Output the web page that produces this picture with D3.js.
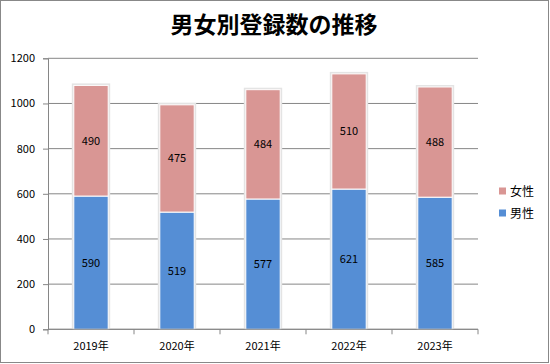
<!DOCTYPE html>
<html>
<meta charset="utf-8">
<title>男女別登録数の推移</title>
<script src="https://d3js.org/d3.v7.min.js"></script>
<style>
  body { margin: 0; background: #fff; }
  text { font-family: "Noto Sans CJK JP", "Noto Sans", sans-serif; }
</style>
<body>
<svg id="chart" width="550" height="364"></svg>
<script>
// data
var years = ["2019年", "2020年", "2021年", "2022年", "2023年"];
var male = [590, 519, 577, 621, 585];
var female = [490, 475, 484, 510, 488];
var yTicks = [0, 200, 400, 600, 800, 1000, 1200];
var seriesNames = ["男性", "女性"];
var colors = { "男性": "#558ed5", "女性": "#d99694" };

var svg = d3.select("#chart");

// outer frame
svg.append("rect")
  .attr("x", 0.5).attr("y", 0.5)
  .attr("width", 548).attr("height", 362)
  .attr("fill", "#fff").attr("stroke", "#888");

var plotLeft = 48, plotRight = 478, plotTop = 58.3, plotBottom = 329.3;

var x = d3.scaleBand().domain(years).range([plotLeft, plotRight]).paddingInner(0.6).paddingOuter(0.3);
var xb = d3.scaleBand().domain(years).range([plotLeft, plotRight]);
var y = d3.scaleLinear().domain([0, 1200]).range([plotBottom, plotTop]);

// title
svg.append("text")
  .attr("x", 274).attr("y", 33)
  .attr("text-anchor", "middle")
  .attr("font-size", 23).attr("font-weight", "bold")
  .attr("fill", "#000")
  .text("男女別登録数の推移");

// gridlines
svg.append("g").selectAll("line")
  .data(yTicks)
  .join("line")
  .attr("x1", plotLeft).attr("x2", plotRight)
  .attr("y1", d => y(d)).attr("y2", d => y(d))
  .attr("stroke", "#868686").attr("stroke-width", 1);

// y axis
var yAxis = svg.append("g")
  .attr("transform", "translate(" + plotLeft + ",0)")
  .call(d3.axisLeft(y).tickValues(yTicks).tickFormat(d3.format("d")).tickSize(5).tickPadding(8));
yAxis.select(".domain").attr("stroke", "#868686");
yAxis.selectAll(".tick line").attr("stroke", "#868686");
yAxis.selectAll("text").attr("font-size", 11).attr("fill", "#000")
  .style("font-family", "'Noto Sans CJK JP', sans-serif");

// stacked data
var rows = years.map(function(yr, i) { return { year: yr, "男性": male[i], "女性": female[i] }; });
var stack = d3.stack().keys(seriesNames)(rows);

// soft shadow behind bars
svg.append("g").selectAll("rect")
  .data(rows)
  .join("rect")
  .attr("x", d => x(d.year) - 2)
  .attr("width", x.bandwidth() + 4)
  .attr("y", d => y(d["男性"] + d["女性"]) - 2)
  .attr("height", d => plotBottom - y(d["男性"] + d["女性"]) + 2)
  .attr("fill", "#e4e4e4");

var layers = svg.append("g").selectAll("g")
  .data(stack)
  .join("g")
  .attr("fill", d => colors[d.key]);

layers.selectAll("rect")
  .data(d => d)
  .join("rect")
  .attr("x", d => x(d.data.year))
  .attr("width", x.bandwidth())
  .attr("y", d => y(d[1]))
  .attr("height", d => y(d[0]) - y(d[1]))
  .attr("stroke", "#fff").attr("stroke-width", 1);

// value labels
layers.selectAll("text")
  .data(d => d.map(v => ({ v: v, key: d.key })))
  .join("text")
  .attr("x", d => x(d.v.data.year) + x.bandwidth() / 2)
  .attr("y", d => (y(d.v[0]) + y(d.v[1])) / 2 + 4)
  .attr("text-anchor", "middle")
  .attr("font-size", 11)
  .attr("fill", "#000")
  .text(d => d.v.data[d.key]);

// x axis
var xAxis = svg.append("g")
  .attr("transform", "translate(0," + plotBottom + ")");
xAxis.append("line")
  .attr("x1", plotLeft).attr("x2", plotRight)
  .attr("stroke", "#868686");
xAxis.selectAll("line.tk")
  .data(years.concat(["end"]))
  .join("line")
  .attr("class", "tk")
  .attr("x1", (d, i) => plotLeft + i * xb.bandwidth())
  .attr("x2", (d, i) => plotLeft + i * xb.bandwidth())
  .attr("y1", 0).attr("y2", 5)
  .attr("stroke", "#868686");
xAxis.selectAll("text")
  .data(years)
  .join("text")
  .attr("x", d => xb(d) + xb.bandwidth() / 2)
  .attr("y", 21)
  .attr("text-anchor", "middle")
  .attr("font-size", 11)
  .attr("fill", "#000")
  .text(d => d);

// legend
var legend = svg.append("g").selectAll("g")
  .data(seriesNames.slice().reverse())
  .join("g")
  .attr("transform", (d, i) => "translate(499," + (191 + i * 22) + ")");
legend.append("rect")
  .attr("x", 0).attr("y", -3.5)
  .attr("width", 7).attr("height", 7)
  .attr("fill", d => colors[d]);
legend.append("text")
  .attr("x", 11).attr("y", 4.5)
  .attr("font-size", 12)
  .attr("fill", "#000")
  .text(d => d);
</script>
</body>
</html>
